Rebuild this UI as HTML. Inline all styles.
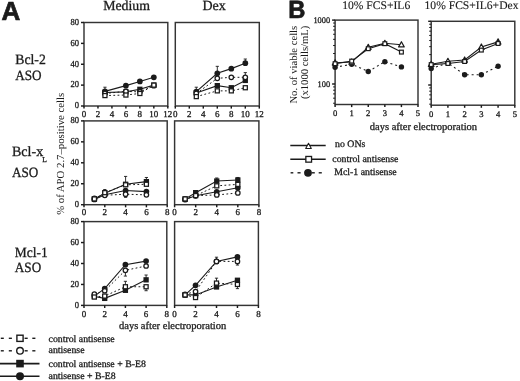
<!DOCTYPE html>
<html><head><meta charset="utf-8"><style>
html,body{margin:0;padding:0;background:#fff;}
svg{display:block;}
text{text-rendering:geometricPrecision;}

</style></head><body>
<svg width="520" height="381" viewBox="0 0 520 381">
<rect width="520" height="381" fill="#fff"/>
<g style="opacity:0.995">
<rect x="84.00" y="22.50" width="83.80" height="83.50" fill="none" stroke="#333" stroke-width="1.45"/>
<line x1="81.00" y1="106.00" x2="84.00" y2="106.00" stroke="#1a1a1a" stroke-width="1.45"/>
<text transform="translate(79.00,108.30) scale(0.93,1)" font-size="9.2" font-family="'Liberation Serif', serif" font-weight="normal" text-anchor="end" fill="#1a1a1a"  stroke="#1a1a1a" stroke-width="0.3">0</text>
<line x1="81.00" y1="85.12" x2="84.00" y2="85.12" stroke="#1a1a1a" stroke-width="1.45"/>
<text transform="translate(79.00,87.42) scale(0.93,1)" font-size="9.2" font-family="'Liberation Serif', serif" font-weight="normal" text-anchor="end" fill="#1a1a1a"  stroke="#1a1a1a" stroke-width="0.3">20</text>
<line x1="81.00" y1="64.25" x2="84.00" y2="64.25" stroke="#1a1a1a" stroke-width="1.45"/>
<text transform="translate(79.00,66.55) scale(0.93,1)" font-size="9.2" font-family="'Liberation Serif', serif" font-weight="normal" text-anchor="end" fill="#1a1a1a"  stroke="#1a1a1a" stroke-width="0.3">40</text>
<line x1="81.00" y1="43.38" x2="84.00" y2="43.38" stroke="#1a1a1a" stroke-width="1.45"/>
<text transform="translate(79.00,45.67) scale(0.93,1)" font-size="9.2" font-family="'Liberation Serif', serif" font-weight="normal" text-anchor="end" fill="#1a1a1a"  stroke="#1a1a1a" stroke-width="0.3">60</text>
<line x1="81.00" y1="22.50" x2="84.00" y2="22.50" stroke="#1a1a1a" stroke-width="1.45"/>
<text transform="translate(79.00,24.80) scale(0.93,1)" font-size="9.2" font-family="'Liberation Serif', serif" font-weight="normal" text-anchor="end" fill="#1a1a1a"  stroke="#1a1a1a" stroke-width="0.3">80</text>
<line x1="84.00" y1="106.00" x2="84.00" y2="108.60" stroke="#1a1a1a" stroke-width="1.45"/>
<text x="84.00" y="116.60" font-size="9.0" font-family="'Liberation Serif', serif" font-weight="normal" text-anchor="middle" fill="#1a1a1a"  stroke="#1a1a1a" stroke-width="0.3">0</text>
<line x1="97.97" y1="106.00" x2="97.97" y2="108.60" stroke="#1a1a1a" stroke-width="1.45"/>
<text x="97.97" y="116.60" font-size="9.0" font-family="'Liberation Serif', serif" font-weight="normal" text-anchor="middle" fill="#1a1a1a"  stroke="#1a1a1a" stroke-width="0.3">2</text>
<line x1="111.93" y1="106.00" x2="111.93" y2="108.60" stroke="#1a1a1a" stroke-width="1.45"/>
<text x="111.93" y="116.60" font-size="9.0" font-family="'Liberation Serif', serif" font-weight="normal" text-anchor="middle" fill="#1a1a1a"  stroke="#1a1a1a" stroke-width="0.3">4</text>
<line x1="125.90" y1="106.00" x2="125.90" y2="108.60" stroke="#1a1a1a" stroke-width="1.45"/>
<text x="125.90" y="116.60" font-size="9.0" font-family="'Liberation Serif', serif" font-weight="normal" text-anchor="middle" fill="#1a1a1a"  stroke="#1a1a1a" stroke-width="0.3">6</text>
<line x1="139.87" y1="106.00" x2="139.87" y2="108.60" stroke="#1a1a1a" stroke-width="1.45"/>
<text x="139.87" y="116.60" font-size="9.0" font-family="'Liberation Serif', serif" font-weight="normal" text-anchor="middle" fill="#1a1a1a"  stroke="#1a1a1a" stroke-width="0.3">8</text>
<line x1="153.83" y1="106.00" x2="153.83" y2="108.60" stroke="#1a1a1a" stroke-width="1.45"/>
<text x="153.83" y="116.60" font-size="9.0" font-family="'Liberation Serif', serif" font-weight="normal" text-anchor="middle" fill="#1a1a1a"  stroke="#1a1a1a" stroke-width="0.3">10</text>
<line x1="167.80" y1="106.00" x2="167.80" y2="108.60" stroke="#1a1a1a" stroke-width="1.45"/>
<text x="167.80" y="116.60" font-size="9.0" font-family="'Liberation Serif', serif" font-weight="normal" text-anchor="middle" fill="#1a1a1a"  stroke="#1a1a1a" stroke-width="0.3">12</text>
<polyline points="104.95,95.56 125.90,95.04 139.87,93.47 153.83,85.12" fill="none" stroke="#1a1a1a" stroke-width="1.0" stroke-dasharray="1.8,2.4"/>
<polyline points="104.95,93.47 125.90,91.39 139.87,91.91 153.83,85.65" fill="none" stroke="#1a1a1a" stroke-width="1.0" stroke-dasharray="1.8,2.4"/>
<polyline points="104.95,92.43 125.90,91.91 139.87,89.30 153.83,85.12" fill="none" stroke="#1a1a1a" stroke-width="1.1"/>
<polyline points="104.95,91.39 125.90,85.65 139.87,81.47 153.83,77.30" fill="none" stroke="#1a1a1a" stroke-width="1.1"/>
<line x1="104.95" y1="91.39" x2="104.95" y2="87.21" stroke="#1a1a1a" stroke-width="0.9"/>
<line x1="103.35" y1="87.21" x2="106.55" y2="87.21" stroke="#1a1a1a" stroke-width="0.9"/>
<circle cx="104.95" cy="91.39" r="2.85" fill="#1a1a1a"/>
<circle cx="125.90" cy="85.65" r="2.85" fill="#1a1a1a"/>
<circle cx="139.87" cy="81.47" r="2.85" fill="#1a1a1a"/>
<circle cx="153.83" cy="77.30" r="2.85" fill="#1a1a1a"/>
<rect x="102.30" y="89.78" width="5.30" height="5.30" fill="#1a1a1a"/>
<rect x="123.25" y="89.26" width="5.30" height="5.30" fill="#1a1a1a"/>
<rect x="137.22" y="86.65" width="5.30" height="5.30" fill="#1a1a1a"/>
<rect x="151.18" y="82.47" width="5.30" height="5.30" fill="#1a1a1a"/>
<circle cx="104.95" cy="93.47" r="2.23" fill="#fff" stroke="#1a1a1a" stroke-width="1.25"/>
<circle cx="125.90" cy="91.39" r="2.23" fill="#fff" stroke="#1a1a1a" stroke-width="1.25"/>
<circle cx="139.87" cy="91.91" r="2.23" fill="#fff" stroke="#1a1a1a" stroke-width="1.25"/>
<circle cx="153.83" cy="85.65" r="2.23" fill="#fff" stroke="#1a1a1a" stroke-width="1.25"/>
<rect x="102.92" y="93.54" width="4.05" height="4.05" fill="#fff" stroke="#1a1a1a" stroke-width="1.25"/>
<rect x="123.88" y="93.02" width="4.05" height="4.05" fill="#fff" stroke="#1a1a1a" stroke-width="1.25"/>
<rect x="137.84" y="91.45" width="4.05" height="4.05" fill="#fff" stroke="#1a1a1a" stroke-width="1.25"/>
<rect x="151.81" y="83.10" width="4.05" height="4.05" fill="#fff" stroke="#1a1a1a" stroke-width="1.25"/>
<rect x="175.30" y="22.50" width="84.00" height="83.50" fill="none" stroke="#333" stroke-width="1.45"/>
<line x1="175.30" y1="106.00" x2="175.30" y2="108.60" stroke="#1a1a1a" stroke-width="1.45"/>
<text x="175.30" y="116.60" font-size="9.0" font-family="'Liberation Serif', serif" font-weight="normal" text-anchor="middle" fill="#1a1a1a"  stroke="#1a1a1a" stroke-width="0.3">0</text>
<line x1="189.30" y1="106.00" x2="189.30" y2="108.60" stroke="#1a1a1a" stroke-width="1.45"/>
<text x="189.30" y="116.60" font-size="9.0" font-family="'Liberation Serif', serif" font-weight="normal" text-anchor="middle" fill="#1a1a1a"  stroke="#1a1a1a" stroke-width="0.3">2</text>
<line x1="203.30" y1="106.00" x2="203.30" y2="108.60" stroke="#1a1a1a" stroke-width="1.45"/>
<text x="203.30" y="116.60" font-size="9.0" font-family="'Liberation Serif', serif" font-weight="normal" text-anchor="middle" fill="#1a1a1a"  stroke="#1a1a1a" stroke-width="0.3">4</text>
<line x1="217.30" y1="106.00" x2="217.30" y2="108.60" stroke="#1a1a1a" stroke-width="1.45"/>
<text x="217.30" y="116.60" font-size="9.0" font-family="'Liberation Serif', serif" font-weight="normal" text-anchor="middle" fill="#1a1a1a"  stroke="#1a1a1a" stroke-width="0.3">6</text>
<line x1="231.30" y1="106.00" x2="231.30" y2="108.60" stroke="#1a1a1a" stroke-width="1.45"/>
<text x="231.30" y="116.60" font-size="9.0" font-family="'Liberation Serif', serif" font-weight="normal" text-anchor="middle" fill="#1a1a1a"  stroke="#1a1a1a" stroke-width="0.3">8</text>
<line x1="245.30" y1="106.00" x2="245.30" y2="108.60" stroke="#1a1a1a" stroke-width="1.45"/>
<text x="245.30" y="116.60" font-size="9.0" font-family="'Liberation Serif', serif" font-weight="normal" text-anchor="middle" fill="#1a1a1a"  stroke="#1a1a1a" stroke-width="0.3">10</text>
<line x1="259.30" y1="106.00" x2="259.30" y2="108.60" stroke="#1a1a1a" stroke-width="1.45"/>
<text x="259.30" y="116.60" font-size="9.0" font-family="'Liberation Serif', serif" font-weight="normal" text-anchor="middle" fill="#1a1a1a"  stroke="#1a1a1a" stroke-width="0.3">12</text>
<polyline points="196.30,96.61 217.30,90.87 231.30,90.87 245.30,87.73" fill="none" stroke="#1a1a1a" stroke-width="1.0" stroke-dasharray="1.8,2.4"/>
<polyline points="196.30,93.47 217.30,78.34 231.30,77.30 245.30,77.30" fill="none" stroke="#1a1a1a" stroke-width="1.0" stroke-dasharray="1.8,2.4"/>
<polyline points="196.30,92.95 217.30,85.65 231.30,87.73 245.30,80.43" fill="none" stroke="#1a1a1a" stroke-width="1.1"/>
<polyline points="196.30,91.70 217.30,73.33 231.30,68.63 245.30,63.21" fill="none" stroke="#1a1a1a" stroke-width="1.1"/>
<line x1="196.30" y1="91.70" x2="196.30" y2="87.21" stroke="#1a1a1a" stroke-width="0.9"/>
<line x1="194.70" y1="87.21" x2="197.90" y2="87.21" stroke="#1a1a1a" stroke-width="0.9"/>
<line x1="217.30" y1="73.33" x2="217.30" y2="66.34" stroke="#1a1a1a" stroke-width="0.9"/>
<line x1="215.70" y1="66.34" x2="218.90" y2="66.34" stroke="#1a1a1a" stroke-width="0.9"/>
<line x1="245.30" y1="63.21" x2="245.30" y2="59.03" stroke="#1a1a1a" stroke-width="0.9"/>
<line x1="243.70" y1="59.03" x2="246.90" y2="59.03" stroke="#1a1a1a" stroke-width="0.9"/>
<line x1="245.30" y1="77.30" x2="245.30" y2="72.60" stroke="#1a1a1a" stroke-width="0.9"/>
<line x1="243.70" y1="72.60" x2="246.90" y2="72.60" stroke="#1a1a1a" stroke-width="0.9"/>
<circle cx="196.30" cy="91.70" r="2.85" fill="#1a1a1a"/>
<circle cx="217.30" cy="73.33" r="2.85" fill="#1a1a1a"/>
<circle cx="231.30" cy="68.63" r="2.85" fill="#1a1a1a"/>
<circle cx="245.30" cy="63.21" r="2.85" fill="#1a1a1a"/>
<rect x="193.65" y="90.30" width="5.30" height="5.30" fill="#1a1a1a"/>
<rect x="214.65" y="83.00" width="5.30" height="5.30" fill="#1a1a1a"/>
<rect x="228.65" y="85.08" width="5.30" height="5.30" fill="#1a1a1a"/>
<rect x="242.65" y="77.78" width="5.30" height="5.30" fill="#1a1a1a"/>
<circle cx="196.30" cy="93.47" r="2.23" fill="#fff" stroke="#1a1a1a" stroke-width="1.25"/>
<circle cx="217.30" cy="78.34" r="2.23" fill="#fff" stroke="#1a1a1a" stroke-width="1.25"/>
<circle cx="231.30" cy="77.30" r="2.23" fill="#fff" stroke="#1a1a1a" stroke-width="1.25"/>
<circle cx="245.30" cy="77.30" r="2.23" fill="#fff" stroke="#1a1a1a" stroke-width="1.25"/>
<rect x="194.28" y="94.58" width="4.05" height="4.05" fill="#fff" stroke="#1a1a1a" stroke-width="1.25"/>
<rect x="215.28" y="88.84" width="4.05" height="4.05" fill="#fff" stroke="#1a1a1a" stroke-width="1.25"/>
<rect x="229.28" y="88.84" width="4.05" height="4.05" fill="#fff" stroke="#1a1a1a" stroke-width="1.25"/>
<rect x="243.28" y="85.71" width="4.05" height="4.05" fill="#fff" stroke="#1a1a1a" stroke-width="1.25"/>
<rect x="84.00" y="120.90" width="83.20" height="83.80" fill="none" stroke="#333" stroke-width="1.45"/>
<line x1="81.00" y1="204.70" x2="84.00" y2="204.70" stroke="#1a1a1a" stroke-width="1.45"/>
<text transform="translate(79.00,207.00) scale(0.93,1)" font-size="9.2" font-family="'Liberation Serif', serif" font-weight="normal" text-anchor="end" fill="#1a1a1a"  stroke="#1a1a1a" stroke-width="0.3">0</text>
<line x1="81.00" y1="183.75" x2="84.00" y2="183.75" stroke="#1a1a1a" stroke-width="1.45"/>
<text transform="translate(79.00,186.05) scale(0.93,1)" font-size="9.2" font-family="'Liberation Serif', serif" font-weight="normal" text-anchor="end" fill="#1a1a1a"  stroke="#1a1a1a" stroke-width="0.3">20</text>
<line x1="81.00" y1="162.80" x2="84.00" y2="162.80" stroke="#1a1a1a" stroke-width="1.45"/>
<text transform="translate(79.00,165.10) scale(0.93,1)" font-size="9.2" font-family="'Liberation Serif', serif" font-weight="normal" text-anchor="end" fill="#1a1a1a"  stroke="#1a1a1a" stroke-width="0.3">40</text>
<line x1="81.00" y1="141.85" x2="84.00" y2="141.85" stroke="#1a1a1a" stroke-width="1.45"/>
<text transform="translate(79.00,144.15) scale(0.93,1)" font-size="9.2" font-family="'Liberation Serif', serif" font-weight="normal" text-anchor="end" fill="#1a1a1a"  stroke="#1a1a1a" stroke-width="0.3">60</text>
<line x1="81.00" y1="120.90" x2="84.00" y2="120.90" stroke="#1a1a1a" stroke-width="1.45"/>
<text transform="translate(79.00,123.20) scale(0.93,1)" font-size="9.2" font-family="'Liberation Serif', serif" font-weight="normal" text-anchor="end" fill="#1a1a1a"  stroke="#1a1a1a" stroke-width="0.3">80</text>
<line x1="84.00" y1="204.70" x2="84.00" y2="207.30" stroke="#1a1a1a" stroke-width="1.45"/>
<text x="84.00" y="214.80" font-size="9.0" font-family="'Liberation Serif', serif" font-weight="normal" text-anchor="middle" fill="#1a1a1a"  stroke="#1a1a1a" stroke-width="0.3">0</text>
<line x1="104.80" y1="204.70" x2="104.80" y2="207.30" stroke="#1a1a1a" stroke-width="1.45"/>
<text x="104.80" y="214.80" font-size="9.0" font-family="'Liberation Serif', serif" font-weight="normal" text-anchor="middle" fill="#1a1a1a"  stroke="#1a1a1a" stroke-width="0.3">2</text>
<line x1="125.60" y1="204.70" x2="125.60" y2="207.30" stroke="#1a1a1a" stroke-width="1.45"/>
<text x="125.60" y="214.80" font-size="9.0" font-family="'Liberation Serif', serif" font-weight="normal" text-anchor="middle" fill="#1a1a1a"  stroke="#1a1a1a" stroke-width="0.3">4</text>
<line x1="146.40" y1="204.70" x2="146.40" y2="207.30" stroke="#1a1a1a" stroke-width="1.45"/>
<text x="146.40" y="214.80" font-size="9.0" font-family="'Liberation Serif', serif" font-weight="normal" text-anchor="middle" fill="#1a1a1a"  stroke="#1a1a1a" stroke-width="0.3">6</text>
<line x1="167.20" y1="204.70" x2="167.20" y2="207.30" stroke="#1a1a1a" stroke-width="1.45"/>
<text x="167.20" y="214.80" font-size="9.0" font-family="'Liberation Serif', serif" font-weight="normal" text-anchor="middle" fill="#1a1a1a"  stroke="#1a1a1a" stroke-width="0.3">8</text>
<polyline points="94.40,198.94 104.80,192.65 125.60,184.80 146.40,184.27" fill="none" stroke="#1a1a1a" stroke-width="1.0" stroke-dasharray="1.8,2.4"/>
<polyline points="94.40,198.41 104.80,195.27 125.60,194.22 146.40,194.85" fill="none" stroke="#1a1a1a" stroke-width="1.0" stroke-dasharray="1.8,2.4"/>
<polyline points="94.40,198.94 104.80,193.18 125.60,184.27 146.40,181.66" fill="none" stroke="#1a1a1a" stroke-width="1.1"/>
<polyline points="94.40,199.46 104.80,194.75 125.60,190.56 146.40,191.61" fill="none" stroke="#1a1a1a" stroke-width="1.1"/>
<line x1="104.80" y1="192.65" x2="104.80" y2="189.51" stroke="#1a1a1a" stroke-width="0.9"/>
<line x1="103.20" y1="189.51" x2="106.40" y2="189.51" stroke="#1a1a1a" stroke-width="0.9"/>
<line x1="125.60" y1="184.27" x2="125.60" y2="176.42" stroke="#1a1a1a" stroke-width="0.9"/>
<line x1="124.00" y1="176.42" x2="127.20" y2="176.42" stroke="#1a1a1a" stroke-width="0.9"/>
<line x1="146.40" y1="181.66" x2="146.40" y2="177.47" stroke="#1a1a1a" stroke-width="0.9"/>
<line x1="144.80" y1="177.47" x2="148.00" y2="177.47" stroke="#1a1a1a" stroke-width="0.9"/>
<line x1="125.60" y1="194.22" x2="125.60" y2="197.37" stroke="#1a1a1a" stroke-width="0.9"/>
<line x1="124.00" y1="197.37" x2="127.20" y2="197.37" stroke="#1a1a1a" stroke-width="0.9"/>
<circle cx="94.40" cy="199.46" r="2.85" fill="#1a1a1a"/>
<circle cx="104.80" cy="194.75" r="2.85" fill="#1a1a1a"/>
<circle cx="125.60" cy="190.56" r="2.85" fill="#1a1a1a"/>
<circle cx="146.40" cy="191.61" r="2.85" fill="#1a1a1a"/>
<rect x="91.75" y="196.29" width="5.30" height="5.30" fill="#1a1a1a"/>
<rect x="102.15" y="190.53" width="5.30" height="5.30" fill="#1a1a1a"/>
<rect x="122.95" y="181.62" width="5.30" height="5.30" fill="#1a1a1a"/>
<rect x="143.75" y="179.00" width="5.30" height="5.30" fill="#1a1a1a"/>
<circle cx="94.40" cy="198.41" r="2.23" fill="#fff" stroke="#1a1a1a" stroke-width="1.25"/>
<circle cx="104.80" cy="195.27" r="2.23" fill="#fff" stroke="#1a1a1a" stroke-width="1.25"/>
<circle cx="125.60" cy="194.22" r="2.23" fill="#fff" stroke="#1a1a1a" stroke-width="1.25"/>
<circle cx="146.40" cy="194.85" r="2.23" fill="#fff" stroke="#1a1a1a" stroke-width="1.25"/>
<rect x="92.38" y="196.91" width="4.05" height="4.05" fill="#fff" stroke="#1a1a1a" stroke-width="1.25"/>
<rect x="102.77" y="190.63" width="4.05" height="4.05" fill="#fff" stroke="#1a1a1a" stroke-width="1.25"/>
<rect x="123.57" y="182.77" width="4.05" height="4.05" fill="#fff" stroke="#1a1a1a" stroke-width="1.25"/>
<rect x="144.37" y="182.25" width="4.05" height="4.05" fill="#fff" stroke="#1a1a1a" stroke-width="1.25"/>
<rect x="174.60" y="120.90" width="84.30" height="83.80" fill="none" stroke="#333" stroke-width="1.45"/>
<line x1="174.60" y1="204.70" x2="174.60" y2="207.30" stroke="#1a1a1a" stroke-width="1.45"/>
<text x="174.60" y="214.80" font-size="9.0" font-family="'Liberation Serif', serif" font-weight="normal" text-anchor="middle" fill="#1a1a1a"  stroke="#1a1a1a" stroke-width="0.3">0</text>
<line x1="195.67" y1="204.70" x2="195.67" y2="207.30" stroke="#1a1a1a" stroke-width="1.45"/>
<text x="195.67" y="214.80" font-size="9.0" font-family="'Liberation Serif', serif" font-weight="normal" text-anchor="middle" fill="#1a1a1a"  stroke="#1a1a1a" stroke-width="0.3">2</text>
<line x1="216.75" y1="204.70" x2="216.75" y2="207.30" stroke="#1a1a1a" stroke-width="1.45"/>
<text x="216.75" y="214.80" font-size="9.0" font-family="'Liberation Serif', serif" font-weight="normal" text-anchor="middle" fill="#1a1a1a"  stroke="#1a1a1a" stroke-width="0.3">4</text>
<line x1="237.82" y1="204.70" x2="237.82" y2="207.30" stroke="#1a1a1a" stroke-width="1.45"/>
<text x="237.82" y="214.80" font-size="9.0" font-family="'Liberation Serif', serif" font-weight="normal" text-anchor="middle" fill="#1a1a1a"  stroke="#1a1a1a" stroke-width="0.3">6</text>
<line x1="258.90" y1="204.70" x2="258.90" y2="207.30" stroke="#1a1a1a" stroke-width="1.45"/>
<text x="258.90" y="214.80" font-size="9.0" font-family="'Liberation Serif', serif" font-weight="normal" text-anchor="middle" fill="#1a1a1a"  stroke="#1a1a1a" stroke-width="0.3">8</text>
<polyline points="185.14,198.94 195.67,195.59 216.75,185.84 237.82,184.38" fill="none" stroke="#1a1a1a" stroke-width="1.0" stroke-dasharray="1.8,2.4"/>
<polyline points="185.14,199.46 195.67,195.59 216.75,194.96 237.82,192.97" fill="none" stroke="#1a1a1a" stroke-width="1.0" stroke-dasharray="1.8,2.4"/>
<polyline points="185.14,198.94 195.67,192.65 216.75,181.03 237.82,179.98" fill="none" stroke="#1a1a1a" stroke-width="1.1"/>
<polyline points="185.14,199.46 195.67,195.80 216.75,191.82 237.82,187.73" fill="none" stroke="#1a1a1a" stroke-width="1.1"/>
<line x1="216.75" y1="181.03" x2="216.75" y2="177.99" stroke="#1a1a1a" stroke-width="0.9"/>
<line x1="215.15" y1="177.99" x2="218.35" y2="177.99" stroke="#1a1a1a" stroke-width="0.9"/>
<line x1="237.82" y1="179.98" x2="237.82" y2="177.47" stroke="#1a1a1a" stroke-width="0.9"/>
<line x1="236.22" y1="177.47" x2="239.42" y2="177.47" stroke="#1a1a1a" stroke-width="0.9"/>
<circle cx="185.14" cy="199.46" r="2.85" fill="#1a1a1a"/>
<circle cx="195.67" cy="195.80" r="2.85" fill="#1a1a1a"/>
<circle cx="216.75" cy="191.82" r="2.85" fill="#1a1a1a"/>
<circle cx="237.82" cy="187.73" r="2.85" fill="#1a1a1a"/>
<rect x="182.49" y="196.29" width="5.30" height="5.30" fill="#1a1a1a"/>
<rect x="193.02" y="190.00" width="5.30" height="5.30" fill="#1a1a1a"/>
<rect x="214.10" y="178.38" width="5.30" height="5.30" fill="#1a1a1a"/>
<rect x="235.17" y="177.33" width="5.30" height="5.30" fill="#1a1a1a"/>
<circle cx="185.14" cy="199.46" r="2.23" fill="#fff" stroke="#1a1a1a" stroke-width="1.25"/>
<circle cx="195.67" cy="195.59" r="2.23" fill="#fff" stroke="#1a1a1a" stroke-width="1.25"/>
<circle cx="216.75" cy="194.96" r="2.23" fill="#fff" stroke="#1a1a1a" stroke-width="1.25"/>
<circle cx="237.82" cy="192.97" r="2.23" fill="#fff" stroke="#1a1a1a" stroke-width="1.25"/>
<rect x="183.11" y="196.91" width="4.05" height="4.05" fill="#fff" stroke="#1a1a1a" stroke-width="1.25"/>
<rect x="193.65" y="193.56" width="4.05" height="4.05" fill="#fff" stroke="#1a1a1a" stroke-width="1.25"/>
<rect x="214.72" y="183.82" width="4.05" height="4.05" fill="#fff" stroke="#1a1a1a" stroke-width="1.25"/>
<rect x="235.80" y="182.35" width="4.05" height="4.05" fill="#fff" stroke="#1a1a1a" stroke-width="1.25"/>
<rect x="84.00" y="221.60" width="82.80" height="83.80" fill="none" stroke="#333" stroke-width="1.45"/>
<line x1="81.00" y1="305.40" x2="84.00" y2="305.40" stroke="#1a1a1a" stroke-width="1.45"/>
<text transform="translate(79.00,307.70) scale(0.93,1)" font-size="9.2" font-family="'Liberation Serif', serif" font-weight="normal" text-anchor="end" fill="#1a1a1a"  stroke="#1a1a1a" stroke-width="0.3">0</text>
<line x1="81.00" y1="284.45" x2="84.00" y2="284.45" stroke="#1a1a1a" stroke-width="1.45"/>
<text transform="translate(79.00,286.75) scale(0.93,1)" font-size="9.2" font-family="'Liberation Serif', serif" font-weight="normal" text-anchor="end" fill="#1a1a1a"  stroke="#1a1a1a" stroke-width="0.3">20</text>
<line x1="81.00" y1="263.50" x2="84.00" y2="263.50" stroke="#1a1a1a" stroke-width="1.45"/>
<text transform="translate(79.00,265.80) scale(0.93,1)" font-size="9.2" font-family="'Liberation Serif', serif" font-weight="normal" text-anchor="end" fill="#1a1a1a"  stroke="#1a1a1a" stroke-width="0.3">40</text>
<line x1="81.00" y1="242.55" x2="84.00" y2="242.55" stroke="#1a1a1a" stroke-width="1.45"/>
<text transform="translate(79.00,244.85) scale(0.93,1)" font-size="9.2" font-family="'Liberation Serif', serif" font-weight="normal" text-anchor="end" fill="#1a1a1a"  stroke="#1a1a1a" stroke-width="0.3">60</text>
<line x1="81.00" y1="221.60" x2="84.00" y2="221.60" stroke="#1a1a1a" stroke-width="1.45"/>
<text transform="translate(79.00,223.90) scale(0.93,1)" font-size="9.2" font-family="'Liberation Serif', serif" font-weight="normal" text-anchor="end" fill="#1a1a1a"  stroke="#1a1a1a" stroke-width="0.3">80</text>
<line x1="84.00" y1="305.40" x2="84.00" y2="308.00" stroke="#1a1a1a" stroke-width="1.45"/>
<text x="84.00" y="317.00" font-size="9.0" font-family="'Liberation Serif', serif" font-weight="normal" text-anchor="middle" fill="#1a1a1a"  stroke="#1a1a1a" stroke-width="0.3">0</text>
<line x1="104.70" y1="305.40" x2="104.70" y2="308.00" stroke="#1a1a1a" stroke-width="1.45"/>
<text x="104.70" y="317.00" font-size="9.0" font-family="'Liberation Serif', serif" font-weight="normal" text-anchor="middle" fill="#1a1a1a"  stroke="#1a1a1a" stroke-width="0.3">2</text>
<line x1="125.40" y1="305.40" x2="125.40" y2="308.00" stroke="#1a1a1a" stroke-width="1.45"/>
<text x="125.40" y="317.00" font-size="9.0" font-family="'Liberation Serif', serif" font-weight="normal" text-anchor="middle" fill="#1a1a1a"  stroke="#1a1a1a" stroke-width="0.3">4</text>
<line x1="146.10" y1="305.40" x2="146.10" y2="308.00" stroke="#1a1a1a" stroke-width="1.45"/>
<text x="146.10" y="317.00" font-size="9.0" font-family="'Liberation Serif', serif" font-weight="normal" text-anchor="middle" fill="#1a1a1a"  stroke="#1a1a1a" stroke-width="0.3">6</text>
<line x1="166.80" y1="305.40" x2="166.80" y2="308.00" stroke="#1a1a1a" stroke-width="1.45"/>
<text x="166.80" y="317.00" font-size="9.0" font-family="'Liberation Serif', serif" font-weight="normal" text-anchor="middle" fill="#1a1a1a"  stroke="#1a1a1a" stroke-width="0.3">8</text>
<polyline points="94.35,297.02 104.70,296.08 125.40,286.75 146.10,286.75" fill="none" stroke="#1a1a1a" stroke-width="1.0" stroke-dasharray="1.8,2.4"/>
<polyline points="94.35,294.19 104.70,290.73 125.40,270.31 146.10,266.01" fill="none" stroke="#1a1a1a" stroke-width="1.0" stroke-dasharray="1.8,2.4"/>
<polyline points="94.35,296.50 104.70,298.38 125.40,290.32 146.10,279.84" fill="none" stroke="#1a1a1a" stroke-width="1.1"/>
<polyline points="94.35,296.08 104.70,288.64 125.40,264.65 146.10,261.09" fill="none" stroke="#1a1a1a" stroke-width="1.1"/>
<line x1="125.40" y1="270.31" x2="125.40" y2="276.07" stroke="#1a1a1a" stroke-width="0.9"/>
<line x1="123.80" y1="276.07" x2="127.00" y2="276.07" stroke="#1a1a1a" stroke-width="0.9"/>
<line x1="125.40" y1="286.75" x2="125.40" y2="281.31" stroke="#1a1a1a" stroke-width="0.9"/>
<line x1="123.80" y1="281.31" x2="127.00" y2="281.31" stroke="#1a1a1a" stroke-width="0.9"/>
<line x1="146.10" y1="279.84" x2="146.10" y2="275.02" stroke="#1a1a1a" stroke-width="0.9"/>
<line x1="144.50" y1="275.02" x2="147.70" y2="275.02" stroke="#1a1a1a" stroke-width="0.9"/>
<line x1="146.10" y1="286.75" x2="146.10" y2="290.73" stroke="#1a1a1a" stroke-width="0.9"/>
<line x1="144.50" y1="290.73" x2="147.70" y2="290.73" stroke="#1a1a1a" stroke-width="0.9"/>
<circle cx="94.35" cy="296.08" r="2.85" fill="#1a1a1a"/>
<circle cx="104.70" cy="288.64" r="2.85" fill="#1a1a1a"/>
<circle cx="125.40" cy="264.65" r="2.85" fill="#1a1a1a"/>
<circle cx="146.10" cy="261.09" r="2.85" fill="#1a1a1a"/>
<rect x="91.70" y="293.85" width="5.30" height="5.30" fill="#1a1a1a"/>
<rect x="102.05" y="295.73" width="5.30" height="5.30" fill="#1a1a1a"/>
<rect x="122.75" y="287.67" width="5.30" height="5.30" fill="#1a1a1a"/>
<rect x="143.45" y="277.19" width="5.30" height="5.30" fill="#1a1a1a"/>
<circle cx="94.35" cy="294.19" r="2.23" fill="#fff" stroke="#1a1a1a" stroke-width="1.25"/>
<circle cx="104.70" cy="290.73" r="2.23" fill="#fff" stroke="#1a1a1a" stroke-width="1.25"/>
<circle cx="125.40" cy="270.31" r="2.23" fill="#fff" stroke="#1a1a1a" stroke-width="1.25"/>
<circle cx="146.10" cy="266.01" r="2.23" fill="#fff" stroke="#1a1a1a" stroke-width="1.25"/>
<rect x="92.32" y="295.00" width="4.05" height="4.05" fill="#fff" stroke="#1a1a1a" stroke-width="1.25"/>
<rect x="102.67" y="294.05" width="4.05" height="4.05" fill="#fff" stroke="#1a1a1a" stroke-width="1.25"/>
<rect x="123.38" y="284.73" width="4.05" height="4.05" fill="#fff" stroke="#1a1a1a" stroke-width="1.25"/>
<rect x="144.08" y="284.73" width="4.05" height="4.05" fill="#fff" stroke="#1a1a1a" stroke-width="1.25"/>
<rect x="174.60" y="221.60" width="83.80" height="83.80" fill="none" stroke="#333" stroke-width="1.45"/>
<line x1="174.60" y1="305.40" x2="174.60" y2="308.00" stroke="#1a1a1a" stroke-width="1.45"/>
<text x="174.60" y="317.00" font-size="9.0" font-family="'Liberation Serif', serif" font-weight="normal" text-anchor="middle" fill="#1a1a1a"  stroke="#1a1a1a" stroke-width="0.3">0</text>
<line x1="195.55" y1="305.40" x2="195.55" y2="308.00" stroke="#1a1a1a" stroke-width="1.45"/>
<text x="195.55" y="317.00" font-size="9.0" font-family="'Liberation Serif', serif" font-weight="normal" text-anchor="middle" fill="#1a1a1a"  stroke="#1a1a1a" stroke-width="0.3">2</text>
<line x1="216.50" y1="305.40" x2="216.50" y2="308.00" stroke="#1a1a1a" stroke-width="1.45"/>
<text x="216.50" y="317.00" font-size="9.0" font-family="'Liberation Serif', serif" font-weight="normal" text-anchor="middle" fill="#1a1a1a"  stroke="#1a1a1a" stroke-width="0.3">4</text>
<line x1="237.45" y1="305.40" x2="237.45" y2="308.00" stroke="#1a1a1a" stroke-width="1.45"/>
<text x="237.45" y="317.00" font-size="9.0" font-family="'Liberation Serif', serif" font-weight="normal" text-anchor="middle" fill="#1a1a1a"  stroke="#1a1a1a" stroke-width="0.3">6</text>
<line x1="258.40" y1="305.40" x2="258.40" y2="308.00" stroke="#1a1a1a" stroke-width="1.45"/>
<text x="258.40" y="317.00" font-size="9.0" font-family="'Liberation Serif', serif" font-weight="normal" text-anchor="middle" fill="#1a1a1a"  stroke="#1a1a1a" stroke-width="0.3">8</text>
<polyline points="185.07,294.92 195.55,297.54 216.50,283.09 237.45,284.45" fill="none" stroke="#1a1a1a" stroke-width="1.0" stroke-dasharray="1.8,2.4"/>
<polyline points="185.07,294.30 195.55,291.57 216.50,261.40 237.45,261.40" fill="none" stroke="#1a1a1a" stroke-width="1.0" stroke-dasharray="1.8,2.4"/>
<polyline points="185.07,294.92 195.55,294.92 216.50,286.96 237.45,280.26" fill="none" stroke="#1a1a1a" stroke-width="1.1"/>
<polyline points="185.07,294.92 195.55,285.29 216.50,261.40 237.45,256.90" fill="none" stroke="#1a1a1a" stroke-width="1.1"/>
<line x1="216.50" y1="261.40" x2="216.50" y2="257.21" stroke="#1a1a1a" stroke-width="0.9"/>
<line x1="214.90" y1="257.21" x2="218.10" y2="257.21" stroke="#1a1a1a" stroke-width="0.9"/>
<line x1="216.50" y1="283.09" x2="216.50" y2="278.16" stroke="#1a1a1a" stroke-width="0.9"/>
<line x1="214.90" y1="278.16" x2="218.10" y2="278.16" stroke="#1a1a1a" stroke-width="0.9"/>
<line x1="237.45" y1="261.40" x2="237.45" y2="265.07" stroke="#1a1a1a" stroke-width="0.9"/>
<line x1="235.85" y1="265.07" x2="239.05" y2="265.07" stroke="#1a1a1a" stroke-width="0.9"/>
<line x1="237.45" y1="284.45" x2="237.45" y2="288.64" stroke="#1a1a1a" stroke-width="0.9"/>
<line x1="235.85" y1="288.64" x2="239.05" y2="288.64" stroke="#1a1a1a" stroke-width="0.9"/>
<circle cx="185.07" cy="294.92" r="2.85" fill="#1a1a1a"/>
<circle cx="195.55" cy="285.29" r="2.85" fill="#1a1a1a"/>
<circle cx="216.50" cy="261.40" r="2.85" fill="#1a1a1a"/>
<circle cx="237.45" cy="256.90" r="2.85" fill="#1a1a1a"/>
<rect x="182.42" y="292.27" width="5.30" height="5.30" fill="#1a1a1a"/>
<rect x="192.90" y="292.27" width="5.30" height="5.30" fill="#1a1a1a"/>
<rect x="213.85" y="284.31" width="5.30" height="5.30" fill="#1a1a1a"/>
<rect x="234.80" y="277.61" width="5.30" height="5.30" fill="#1a1a1a"/>
<circle cx="185.07" cy="294.30" r="2.23" fill="#fff" stroke="#1a1a1a" stroke-width="1.25"/>
<circle cx="195.55" cy="291.57" r="2.23" fill="#fff" stroke="#1a1a1a" stroke-width="1.25"/>
<circle cx="216.50" cy="261.40" r="2.23" fill="#fff" stroke="#1a1a1a" stroke-width="1.25"/>
<circle cx="237.45" cy="261.40" r="2.23" fill="#fff" stroke="#1a1a1a" stroke-width="1.25"/>
<rect x="183.05" y="292.90" width="4.05" height="4.05" fill="#fff" stroke="#1a1a1a" stroke-width="1.25"/>
<rect x="193.52" y="295.52" width="4.05" height="4.05" fill="#fff" stroke="#1a1a1a" stroke-width="1.25"/>
<rect x="214.47" y="281.06" width="4.05" height="4.05" fill="#fff" stroke="#1a1a1a" stroke-width="1.25"/>
<rect x="235.42" y="282.43" width="4.05" height="4.05" fill="#fff" stroke="#1a1a1a" stroke-width="1.25"/>
<text transform="translate(15.20,64.00) scale(0.97,1)" font-size="14.2" font-family="'Liberation Serif', serif" font-weight="normal" text-anchor="start" fill="#1a1a1a"  stroke="#1a1a1a" stroke-width="0.3">Bcl-2</text>
<text transform="translate(15.20,79.60) scale(0.93,1)" font-size="14.2" font-family="'Liberation Serif', serif" font-weight="normal" text-anchor="start" fill="#1a1a1a"  stroke="#1a1a1a" stroke-width="0.3">ASO</text>
<text transform="translate(12.00,155.70) scale(0.99,1)" font-size="14.2" font-family="'Liberation Serif', serif" font-weight="normal" text-anchor="start" fill="#1a1a1a"  stroke="#1a1a1a" stroke-width="0.3">Bcl-x</text>
<text x="42.30" y="162.00" font-size="7.5" font-family="'Liberation Serif', serif" font-weight="normal" text-anchor="start" fill="#1a1a1a"  stroke="#1a1a1a" stroke-width="0.3">L</text>
<text transform="translate(12.00,177.00) scale(0.93,1)" font-size="14.2" font-family="'Liberation Serif', serif" font-weight="normal" text-anchor="start" fill="#1a1a1a"  stroke="#1a1a1a" stroke-width="0.3">ASO</text>
<text transform="translate(14.80,256.80) scale(0.95,1)" font-size="14.2" font-family="'Liberation Serif', serif" font-weight="normal" text-anchor="start" fill="#1a1a1a"  stroke="#1a1a1a" stroke-width="0.3">Mcl-1</text>
<text transform="translate(14.80,272.30) scale(0.93,1)" font-size="14.2" font-family="'Liberation Serif', serif" font-weight="normal" text-anchor="start" fill="#1a1a1a"  stroke="#1a1a1a" stroke-width="0.3">ASO</text>
<text x="126.60" y="10.20" font-size="13.8" font-family="'Liberation Serif', serif" font-weight="normal" text-anchor="middle" fill="#1a1a1a"  stroke="#1a1a1a" stroke-width="0.3">Medium</text>
<text x="214.10" y="10.30" font-size="14.0" font-family="'Liberation Serif', serif" font-weight="normal" text-anchor="middle" fill="#1a1a1a"  stroke="#1a1a1a" stroke-width="0.3">Dex</text>
<text transform="translate(63.8,153.8) rotate(-90)" font-size="10.75" font-family="'Liberation Serif', serif" text-anchor="middle" fill="#1a1a1a">% of APO 2.7&#8211;positive cells</text>
<text x="119.00" y="329.10" font-size="10.5" font-family="'Liberation Serif', serif" font-weight="normal" text-anchor="start" fill="#1a1a1a"  stroke="#1a1a1a" stroke-width="0.3">days after electroporation</text>
<text x="1.50" y="19.70" font-size="26.0" font-family="'Liberation Sans', sans-serif" font-weight="bold" text-anchor="start" fill="#1a1a1a" stroke="#1a1a1a" stroke-width="0.7">A</text>
<text transform="translate(288.20,18.00) scale(0.95,1)" font-size="25.0" font-family="'Liberation Sans', sans-serif" font-weight="bold" text-anchor="start" fill="#1a1a1a" stroke="#1a1a1a" stroke-width="0.7">B</text>
<line x1="0.80" y1="338.30" x2="3.80" y2="338.30" stroke="#1a1a1a" stroke-width="1.4"/>
<line x1="8.80" y1="338.30" x2="11.90" y2="338.30" stroke="#1a1a1a" stroke-width="1.4"/>
<line x1="24.60" y1="338.30" x2="27.70" y2="338.30" stroke="#1a1a1a" stroke-width="1.4"/>
<line x1="32.30" y1="338.30" x2="35.40" y2="338.30" stroke="#1a1a1a" stroke-width="1.4"/>
<rect x="16.90" y="335.20" width="6.20" height="6.20" fill="#fff" stroke="#1a1a1a" stroke-width="1.4"/>
<text x="48.60" y="341.90" font-size="9.8" font-family="'Liberation Serif', serif" font-weight="normal" text-anchor="start" fill="#1a1a1a"  stroke="#1a1a1a" stroke-width="0.3">control antisense</text>
<line x1="0.80" y1="350.80" x2="3.80" y2="350.80" stroke="#1a1a1a" stroke-width="1.4"/>
<line x1="8.80" y1="350.80" x2="11.90" y2="350.80" stroke="#1a1a1a" stroke-width="1.4"/>
<line x1="24.60" y1="350.80" x2="27.70" y2="350.80" stroke="#1a1a1a" stroke-width="1.4"/>
<line x1="32.30" y1="350.80" x2="35.40" y2="350.80" stroke="#1a1a1a" stroke-width="1.4"/>
<circle cx="20.00" cy="350.80" r="3.30" fill="#fff" stroke="#1a1a1a" stroke-width="1.4"/>
<text x="48.60" y="352.90" font-size="9.8" font-family="'Liberation Serif', serif" font-weight="normal" text-anchor="start" fill="#1a1a1a"  stroke="#1a1a1a" stroke-width="0.3">antisense</text>
<line x1="0.00" y1="363.60" x2="39.50" y2="363.60" stroke="#1a1a1a" stroke-width="1.6"/>
<rect x="16.20" y="359.80" width="7.60" height="7.60" fill="#1a1a1a"/>
<text x="48.60" y="366.60" font-size="9.8" font-family="'Liberation Serif', serif" font-weight="normal" text-anchor="start" fill="#1a1a1a"  stroke="#1a1a1a" stroke-width="0.3">control antisense + B-E8</text>
<line x1="0.00" y1="376.30" x2="39.50" y2="376.30" stroke="#1a1a1a" stroke-width="1.6"/>
<circle cx="20.00" cy="376.30" r="4.00" fill="#1a1a1a"/>
<text x="48.60" y="378.90" font-size="9.8" font-family="'Liberation Serif', serif" font-weight="normal" text-anchor="start" fill="#1a1a1a"  stroke="#1a1a1a" stroke-width="0.3">antisense + B-E8</text>
<rect x="335.10" y="20.10" width="82.90" height="84.40" fill="none" stroke="#333" stroke-width="1.45"/>
<line x1="332.10" y1="20.10" x2="335.10" y2="20.10" stroke="#1a1a1a" stroke-width="1.45"/>
<text transform="translate(330.10,23.00) scale(0.97,1)" font-size="8.6" font-family="'Liberation Serif', serif" font-weight="normal" text-anchor="end" fill="#1a1a1a"  stroke="#1a1a1a" stroke-width="0.3">1000</text>
<line x1="332.10" y1="84.00" x2="335.10" y2="84.00" stroke="#1a1a1a" stroke-width="1.45"/>
<text transform="translate(330.10,86.90) scale(0.97,1)" font-size="8.6" font-family="'Liberation Serif', serif" font-weight="normal" text-anchor="end" fill="#1a1a1a"  stroke="#1a1a1a" stroke-width="0.3">100</text>
<line x1="333.10" y1="64.76" x2="335.10" y2="64.76" stroke="#1a1a1a" stroke-width="1.0"/>
<line x1="333.10" y1="53.51" x2="335.10" y2="53.51" stroke="#1a1a1a" stroke-width="1.0"/>
<line x1="333.10" y1="45.53" x2="335.10" y2="45.53" stroke="#1a1a1a" stroke-width="1.0"/>
<line x1="333.10" y1="39.34" x2="335.10" y2="39.34" stroke="#1a1a1a" stroke-width="1.0"/>
<line x1="333.10" y1="34.28" x2="335.10" y2="34.28" stroke="#1a1a1a" stroke-width="1.0"/>
<line x1="333.10" y1="30.00" x2="335.10" y2="30.00" stroke="#1a1a1a" stroke-width="1.0"/>
<line x1="333.10" y1="26.29" x2="335.10" y2="26.29" stroke="#1a1a1a" stroke-width="1.0"/>
<line x1="333.10" y1="23.02" x2="335.10" y2="23.02" stroke="#1a1a1a" stroke-width="1.0"/>
<line x1="333.10" y1="103.24" x2="335.10" y2="103.24" stroke="#1a1a1a" stroke-width="1.0"/>
<line x1="333.10" y1="98.18" x2="335.10" y2="98.18" stroke="#1a1a1a" stroke-width="1.0"/>
<line x1="333.10" y1="93.90" x2="335.10" y2="93.90" stroke="#1a1a1a" stroke-width="1.0"/>
<line x1="333.10" y1="90.19" x2="335.10" y2="90.19" stroke="#1a1a1a" stroke-width="1.0"/>
<line x1="333.10" y1="86.92" x2="335.10" y2="86.92" stroke="#1a1a1a" stroke-width="1.0"/>
<line x1="335.10" y1="104.50" x2="335.10" y2="107.10" stroke="#1a1a1a" stroke-width="1.45"/>
<text x="335.10" y="116.30" font-size="8.6" font-family="'Liberation Serif', serif" font-weight="normal" text-anchor="middle" fill="#1a1a1a"  stroke="#1a1a1a" stroke-width="0.3">0</text>
<line x1="351.68" y1="104.50" x2="351.68" y2="107.10" stroke="#1a1a1a" stroke-width="1.45"/>
<text x="351.68" y="116.30" font-size="8.6" font-family="'Liberation Serif', serif" font-weight="normal" text-anchor="middle" fill="#1a1a1a"  stroke="#1a1a1a" stroke-width="0.3">1</text>
<line x1="368.26" y1="104.50" x2="368.26" y2="107.10" stroke="#1a1a1a" stroke-width="1.45"/>
<text x="368.26" y="116.30" font-size="8.6" font-family="'Liberation Serif', serif" font-weight="normal" text-anchor="middle" fill="#1a1a1a"  stroke="#1a1a1a" stroke-width="0.3">2</text>
<line x1="384.84" y1="104.50" x2="384.84" y2="107.10" stroke="#1a1a1a" stroke-width="1.45"/>
<text x="384.84" y="116.30" font-size="8.6" font-family="'Liberation Serif', serif" font-weight="normal" text-anchor="middle" fill="#1a1a1a"  stroke="#1a1a1a" stroke-width="0.3">3</text>
<line x1="401.42" y1="104.50" x2="401.42" y2="107.10" stroke="#1a1a1a" stroke-width="1.45"/>
<text x="401.42" y="116.30" font-size="8.6" font-family="'Liberation Serif', serif" font-weight="normal" text-anchor="middle" fill="#1a1a1a"  stroke="#1a1a1a" stroke-width="0.3">4</text>
<line x1="418.00" y1="104.50" x2="418.00" y2="107.10" stroke="#1a1a1a" stroke-width="1.45"/>
<text x="418.00" y="116.30" font-size="8.6" font-family="'Liberation Serif', serif" font-weight="normal" text-anchor="middle" fill="#1a1a1a"  stroke="#1a1a1a" stroke-width="0.3">5</text>
<text x="376.20" y="9.40" font-size="11.6" font-family="'Liberation Serif', serif" font-weight="normal" text-anchor="middle" fill="#1a1a1a"  stroke="#1a1a1a" stroke-width="0.12">10% FCS+IL6</text>
<polyline points="335.10,62.90 351.68,62.00 368.26,47.30 384.84,43.30 401.42,44.70" fill="none" stroke="#1a1a1a" stroke-width="1.1"/>
<polyline points="335.10,63.70 351.68,61.10 368.26,48.70 384.84,43.70 401.42,52.10" fill="none" stroke="#1a1a1a" stroke-width="1.1"/>
<polyline points="335.10,67.20 351.68,64.30 368.26,71.50 384.84,61.70 401.42,66.90" fill="none" stroke="#1a1a1a" stroke-width="1.1" stroke-dasharray="2,3"/>
<circle cx="335.10" cy="67.20" r="2.70" fill="#1a1a1a"/>
<circle cx="351.68" cy="64.30" r="2.70" fill="#1a1a1a"/>
<circle cx="368.26" cy="71.50" r="2.70" fill="#1a1a1a"/>
<circle cx="384.84" cy="61.70" r="2.70" fill="#1a1a1a"/>
<circle cx="401.42" cy="66.90" r="2.70" fill="#1a1a1a"/>
<polygon points="335.10,59.90 337.90,65.10 332.30,65.10" fill="#fff" stroke="#1a1a1a" stroke-width="1.2" stroke-linejoin="round"/>
<polygon points="351.68,59.00 354.48,64.20 348.88,64.20" fill="#fff" stroke="#1a1a1a" stroke-width="1.2" stroke-linejoin="round"/>
<polygon points="368.26,44.30 371.06,49.50 365.46,49.50" fill="#fff" stroke="#1a1a1a" stroke-width="1.2" stroke-linejoin="round"/>
<polygon points="384.84,40.30 387.64,45.50 382.04,45.50" fill="#fff" stroke="#1a1a1a" stroke-width="1.2" stroke-linejoin="round"/>
<polygon points="401.42,41.70 404.22,46.90 398.62,46.90" fill="#fff" stroke="#1a1a1a" stroke-width="1.2" stroke-linejoin="round"/>
<rect x="333.20" y="61.80" width="3.80" height="3.80" fill="#fff" stroke="#1a1a1a" stroke-width="1.2"/>
<rect x="349.78" y="59.20" width="3.80" height="3.80" fill="#fff" stroke="#1a1a1a" stroke-width="1.2"/>
<rect x="366.36" y="46.80" width="3.80" height="3.80" fill="#fff" stroke="#1a1a1a" stroke-width="1.2"/>
<rect x="382.94" y="41.80" width="3.80" height="3.80" fill="#fff" stroke="#1a1a1a" stroke-width="1.2"/>
<rect x="399.52" y="50.20" width="3.80" height="3.80" fill="#fff" stroke="#1a1a1a" stroke-width="1.2"/>
<rect x="431.20" y="21.30" width="83.60" height="83.90" fill="none" stroke="#333" stroke-width="1.45"/>
<line x1="428.20" y1="21.30" x2="431.20" y2="21.30" stroke="#1a1a1a" stroke-width="1.45"/>
<line x1="428.20" y1="85.00" x2="431.20" y2="85.00" stroke="#1a1a1a" stroke-width="1.45"/>
<line x1="429.20" y1="65.82" x2="431.20" y2="65.82" stroke="#1a1a1a" stroke-width="1.0"/>
<line x1="429.20" y1="54.61" x2="431.20" y2="54.61" stroke="#1a1a1a" stroke-width="1.0"/>
<line x1="429.20" y1="46.65" x2="431.20" y2="46.65" stroke="#1a1a1a" stroke-width="1.0"/>
<line x1="429.20" y1="40.48" x2="431.20" y2="40.48" stroke="#1a1a1a" stroke-width="1.0"/>
<line x1="429.20" y1="35.43" x2="431.20" y2="35.43" stroke="#1a1a1a" stroke-width="1.0"/>
<line x1="429.20" y1="31.17" x2="431.20" y2="31.17" stroke="#1a1a1a" stroke-width="1.0"/>
<line x1="429.20" y1="27.47" x2="431.20" y2="27.47" stroke="#1a1a1a" stroke-width="1.0"/>
<line x1="429.20" y1="24.21" x2="431.20" y2="24.21" stroke="#1a1a1a" stroke-width="1.0"/>
<line x1="429.20" y1="104.18" x2="431.20" y2="104.18" stroke="#1a1a1a" stroke-width="1.0"/>
<line x1="429.20" y1="99.13" x2="431.20" y2="99.13" stroke="#1a1a1a" stroke-width="1.0"/>
<line x1="429.20" y1="94.87" x2="431.20" y2="94.87" stroke="#1a1a1a" stroke-width="1.0"/>
<line x1="429.20" y1="91.17" x2="431.20" y2="91.17" stroke="#1a1a1a" stroke-width="1.0"/>
<line x1="429.20" y1="87.91" x2="431.20" y2="87.91" stroke="#1a1a1a" stroke-width="1.0"/>
<line x1="431.20" y1="105.20" x2="431.20" y2="107.80" stroke="#1a1a1a" stroke-width="1.45"/>
<text x="431.20" y="117.00" font-size="8.6" font-family="'Liberation Serif', serif" font-weight="normal" text-anchor="middle" fill="#1a1a1a"  stroke="#1a1a1a" stroke-width="0.3">0</text>
<line x1="447.92" y1="105.20" x2="447.92" y2="107.80" stroke="#1a1a1a" stroke-width="1.45"/>
<text x="447.92" y="117.00" font-size="8.6" font-family="'Liberation Serif', serif" font-weight="normal" text-anchor="middle" fill="#1a1a1a"  stroke="#1a1a1a" stroke-width="0.3">1</text>
<line x1="464.64" y1="105.20" x2="464.64" y2="107.80" stroke="#1a1a1a" stroke-width="1.45"/>
<text x="464.64" y="117.00" font-size="8.6" font-family="'Liberation Serif', serif" font-weight="normal" text-anchor="middle" fill="#1a1a1a"  stroke="#1a1a1a" stroke-width="0.3">2</text>
<line x1="481.36" y1="105.20" x2="481.36" y2="107.80" stroke="#1a1a1a" stroke-width="1.45"/>
<text x="481.36" y="117.00" font-size="8.6" font-family="'Liberation Serif', serif" font-weight="normal" text-anchor="middle" fill="#1a1a1a"  stroke="#1a1a1a" stroke-width="0.3">3</text>
<line x1="498.08" y1="105.20" x2="498.08" y2="107.80" stroke="#1a1a1a" stroke-width="1.45"/>
<text x="498.08" y="117.00" font-size="8.6" font-family="'Liberation Serif', serif" font-weight="normal" text-anchor="middle" fill="#1a1a1a"  stroke="#1a1a1a" stroke-width="0.3">4</text>
<line x1="514.80" y1="105.20" x2="514.80" y2="107.80" stroke="#1a1a1a" stroke-width="1.45"/>
<text x="514.80" y="117.00" font-size="8.6" font-family="'Liberation Serif', serif" font-weight="normal" text-anchor="middle" fill="#1a1a1a"  stroke="#1a1a1a" stroke-width="0.3">5</text>
<text x="471.50" y="9.40" font-size="11.6" font-family="'Liberation Serif', serif" font-weight="normal" text-anchor="middle" fill="#1a1a1a"  stroke="#1a1a1a" stroke-width="0.12">10% FCS+IL6+Dex</text>
<polyline points="431.20,64.20 447.92,61.30 464.64,60.00 481.36,47.00 498.08,41.90" fill="none" stroke="#1a1a1a" stroke-width="1.1"/>
<polyline points="431.20,64.60 447.92,63.50 464.64,61.50 481.36,50.10 498.08,43.50" fill="none" stroke="#1a1a1a" stroke-width="1.1"/>
<polyline points="431.20,68.50 447.92,63.00 464.64,74.70 481.36,74.70 498.08,66.20" fill="none" stroke="#1a1a1a" stroke-width="1.1" stroke-dasharray="2,3"/>
<circle cx="431.20" cy="68.50" r="2.70" fill="#1a1a1a"/>
<circle cx="447.92" cy="63.00" r="2.70" fill="#1a1a1a"/>
<circle cx="464.64" cy="74.70" r="2.70" fill="#1a1a1a"/>
<circle cx="481.36" cy="74.70" r="2.70" fill="#1a1a1a"/>
<circle cx="498.08" cy="66.20" r="2.70" fill="#1a1a1a"/>
<polygon points="431.20,61.20 434.00,66.40 428.40,66.40" fill="#fff" stroke="#1a1a1a" stroke-width="1.2" stroke-linejoin="round"/>
<polygon points="447.92,58.30 450.72,63.50 445.12,63.50" fill="#fff" stroke="#1a1a1a" stroke-width="1.2" stroke-linejoin="round"/>
<polygon points="464.64,57.00 467.44,62.20 461.84,62.20" fill="#fff" stroke="#1a1a1a" stroke-width="1.2" stroke-linejoin="round"/>
<polygon points="481.36,44.00 484.16,49.20 478.56,49.20" fill="#fff" stroke="#1a1a1a" stroke-width="1.2" stroke-linejoin="round"/>
<polygon points="498.08,38.90 500.88,44.10 495.28,44.10" fill="#fff" stroke="#1a1a1a" stroke-width="1.2" stroke-linejoin="round"/>
<rect x="429.30" y="62.70" width="3.80" height="3.80" fill="#fff" stroke="#1a1a1a" stroke-width="1.2"/>
<rect x="446.02" y="61.60" width="3.80" height="3.80" fill="#fff" stroke="#1a1a1a" stroke-width="1.2"/>
<rect x="462.74" y="59.60" width="3.80" height="3.80" fill="#fff" stroke="#1a1a1a" stroke-width="1.2"/>
<rect x="479.46" y="48.20" width="3.80" height="3.80" fill="#fff" stroke="#1a1a1a" stroke-width="1.2"/>
<rect x="496.18" y="41.60" width="3.80" height="3.80" fill="#fff" stroke="#1a1a1a" stroke-width="1.2"/>
<text transform="translate(296.6,64.7) rotate(-90)" font-size="10.6" font-family="'Liberation Serif', serif" text-anchor="middle" fill="#1a1a1a">No. of viable cells</text>
<text transform="translate(307.6,62.4) rotate(-90)" font-size="10.6" font-family="'Liberation Serif', serif" text-anchor="middle" fill="#1a1a1a">(x1000 cells/mL)</text>
<text x="369.80" y="130.00" font-size="10.5" font-family="'Liberation Serif', serif" font-weight="normal" text-anchor="start" fill="#1a1a1a"  stroke="#1a1a1a" stroke-width="0.3">days after electroporation</text>
<line x1="290.30" y1="145.60" x2="325.70" y2="145.60" stroke="#1a1a1a" stroke-width="1.5"/>
<polygon points="308.50,143.30 311.30,148.50 305.70,148.50" fill="#fff" stroke="#1a1a1a" stroke-width="1.1" stroke-linejoin="round"/>
<text x="335.10" y="147.30" font-size="9.8" font-family="'Liberation Serif', serif" font-weight="normal" text-anchor="start" fill="#1a1a1a"  stroke="#1a1a1a" stroke-width="0.3">no ONs</text>
<line x1="290.30" y1="159.30" x2="325.70" y2="159.30" stroke="#1a1a1a" stroke-width="1.5"/>
<rect x="305.85" y="156.45" width="5.70" height="5.70" fill="#fff" stroke="#1a1a1a" stroke-width="1.3"/>
<text x="332.30" y="161.90" font-size="9.8" font-family="'Liberation Serif', serif" font-weight="normal" text-anchor="start" fill="#1a1a1a"  stroke="#1a1a1a" stroke-width="0.3">control antisense</text>
<line x1="290.60" y1="172.80" x2="293.30" y2="172.80" stroke="#1a1a1a" stroke-width="1.4"/>
<line x1="297.50" y1="172.80" x2="300.60" y2="172.80" stroke="#1a1a1a" stroke-width="1.4"/>
<line x1="311.80" y1="172.80" x2="314.80" y2="172.80" stroke="#1a1a1a" stroke-width="1.4"/>
<line x1="318.70" y1="172.80" x2="321.80" y2="172.80" stroke="#1a1a1a" stroke-width="1.4"/>
<circle cx="308.00" cy="172.80" r="3.90" fill="#1a1a1a"/>
<text x="334.30" y="175.30" font-size="9.8" font-family="'Liberation Serif', serif" font-weight="normal" text-anchor="start" fill="#1a1a1a"  stroke="#1a1a1a" stroke-width="0.3">Mcl-1 antisense</text>
</g>
</svg>
</body></html>
